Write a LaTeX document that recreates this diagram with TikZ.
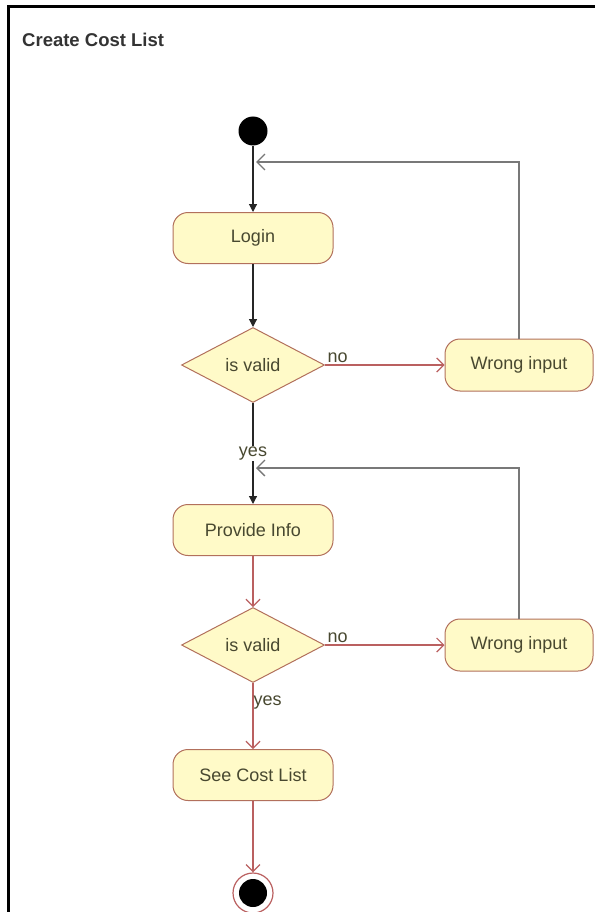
\documentclass[tikz,border=0pt]{standalone}
\usepackage{fontspec}
\setsansfont{Liberation Sans}
\usepackage{xcolor}
\usetikzlibrary{positioning,arrows.meta,shapes.geometric}

\definecolor{boxfill}{RGB}{255,250,200}
\definecolor{boxline}{RGB}{178,112,92}
\definecolor{arrowred}{RGB}{186,96,96}
\definecolor{backgray}{RGB}{120,120,120}
\definecolor{labeltext}{RGB}{72,72,48}

\tikzset{
  action/.style={rectangle, rounded corners=15pt, draw=boxline, fill=boxfill,
    line width=1pt, minimum width=160pt, minimum height=51pt,
    font=\sffamily\fontsize{18}{20}\selectfont, text=labeltext},
  decision/.style={diamond, aspect=1.9, draw=boxline, fill=boxfill,
    line width=1pt, inner sep=0pt, minimum width=143pt, minimum height=75pt,
    font=\sffamily\fontsize{18}{20}\selectfont, text=labeltext},
  guard/.style={font=\sffamily\fontsize{18}{20}\selectfont, text=labeltext, inner sep=2pt},
  blackflow/.style={draw=black!85, line width=1.2pt, -{Triangle[length=8pt,width=8pt]}},
  redflow/.style={draw=arrowred, line width=1.2pt, -{Straight Barb[length=7pt,width=14pt]}},
  backflow/.style={draw=backgray, line width=1.4pt, -{Straight Barb[length=8pt,width=16pt]}}
}

\begin{document}
\begin{tikzpicture}[x=1pt, y=-1pt]
\useasboundingbox (0,0) rectangle (595,912);

% frame and title
\draw[line width=3pt] (8.5,912) -- (8.5,6.5) -- (595,6.5);
\node[anchor=base west, inner sep=0pt, font=\sffamily\bfseries\fontsize{18.5}{20}\selectfont, text=black!80] (title) at (22,47) {Create Cost List};

% start and end
\node[circle, fill=black, minimum size=29pt, inner sep=0pt] (start) at (253,131) {};
\node[circle, draw=arrowred, line width=1.2pt, fill=white, minimum size=40pt, inner sep=0pt] (stop) at (253,893) {};
\node[circle, fill=black, minimum size=28pt, inner sep=0pt] (stopdot) at (stop) {};

% left column
\node[action] (login) at (253,238) {Login};
\node[decision] (valid1) at (253,365) {is valid};
\node[action] (provide) at (253,530) {Provide Info};
\node[decision] (valid2) at (253,645) {is valid};
\node[action] (see) at (253,775) {See Cost List};

% right column
\node[action, minimum width=148pt, minimum height=52pt] (wrong1) at (519,365) {Wrong input};
\node[action, minimum width=148pt, minimum height=52pt] (wrong2) at (519,645) {Wrong input};

% return points
\coordinate (back1) at (256,162);
\coordinate (back2) at (256,468);

% flows
\draw[blackflow] (start) -- (login);
\draw[blackflow] (login) -- (valid1);
\draw[redflow] (valid1) -- node[guard, pos=0, anchor=south west] {no} (wrong1);
\draw[backflow] (wrong1.north) |- (back1);
\draw[blackflow] (valid1) -- node[guard, fill=white, inner sep=1pt] {yes} (provide);
\draw[redflow] (provide) -- (valid2);
\draw[redflow] (valid2) -- node[guard, pos=0, anchor=south west] {no} (wrong2);
\draw[backflow] (wrong2.north) |- (back2);
\draw[redflow] (valid2) -- node[guard, pos=0.3, right, inner sep=0pt] {yes} (see);
\draw[redflow] (see) -- (stop);
\end{tikzpicture}
\end{document}
